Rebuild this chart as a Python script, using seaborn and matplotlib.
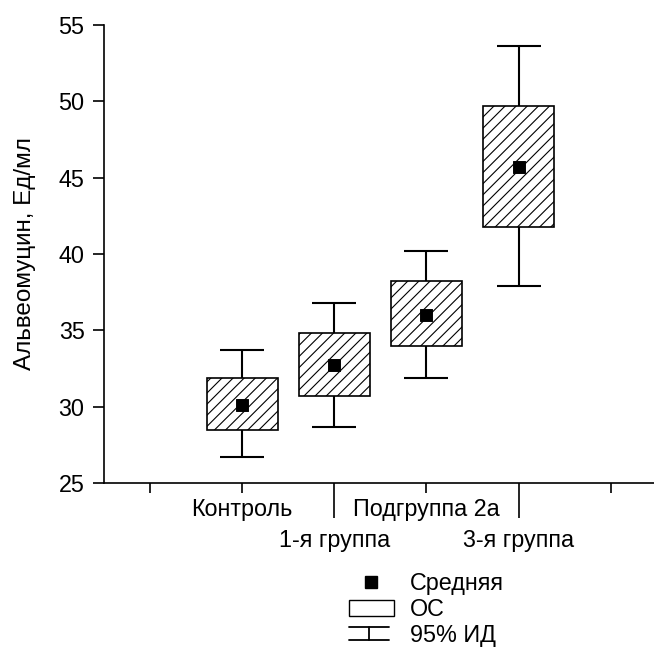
import numpy as np
import pandas as pd
import matplotlib
matplotlib.use("Agg")
import matplotlib.pyplot as plt
import seaborn as sns
from matplotlib.patches import Patch
from matplotlib.lines import Line2D
from matplotlib.legend_handler import HandlerBase
from matplotlib.container import ErrorbarContainer

# данные
groups = ["Контроль", "1-я группа", "Подгруппа 2а", "3-я группа"]
mean = [30.1, 32.7, 36.0, 45.7]
os_low = [28.5, 30.7, 34.0, 41.8]
os_high = [31.9, 34.8, 38.2, 49.7]
ci_low = [26.7, 28.7, 31.9, 37.9]
ci_high = [33.7, 36.8, 40.2, 53.6]

df = pd.DataFrame({"group": groups, "mean": mean, "os_low": os_low,
                   "os_high": os_high, "ci_low": ci_low, "ci_high": ci_high})
df["x"] = np.arange(len(groups))


# значок "95% ИД" в легенде: две горизонтальные линии и стойка между ними
class HandlerCI(HandlerBase):
    def create_artists(self, legend, orig_handle, xdescent, ydescent,
                       width, height, fontsize, trans):
        x0 = -xdescent
        x1 = x0 + width * 0.9
        xm = (x0 + x1) / 2
        yc = -ydescent + height / 2
        h = 0.28 * fontsize
        lw = 1.3
        lines = [Line2D([x0, x1], [yc + h, yc + h], color="black", lw=lw),
                 Line2D([x0, x1], [yc - h, yc - h], color="black", lw=lw),
                 Line2D([xm, xm], [yc - h, yc + h], color="black", lw=lw)]
        for l in lines:
            l.set_transform(trans)
        return lines


sns.set_style("ticks")
plt.rcParams["font.family"] = ["Liberation Sans", "DejaVu Sans"]
plt.rcParams["hatch.linewidth"] = 0.8
for k in ["text.color", "axes.labelcolor", "xtick.color", "ytick.color", "axes.edgecolor"]:
    plt.rcParams[k] = "black"
fs = 16.8

fig = plt.figure(figsize=(6.54, 6.48), dpi=100)
ax = fig.add_axes([104 / 654, 1 - 483 / 648, 1 - 104 / 654, (483 - 25) / 648])

# 95% ИД
err = ax.errorbar(df["x"], df["mean"],
                  yerr=[df["mean"] - df["ci_low"], df["ci_high"] - df["mean"]],
                  fmt="none", ecolor="black", elinewidth=1.5, capsize=15.5,
                  capthick=1.5, zorder=1)
# ОС
ax.bar(df["x"], df["os_high"] - df["os_low"], bottom=df["os_low"], width=0.77,
       color="white", edgecolor="black", linewidth=1.2, hatch="///", zorder=2)
# средняя
sns.scatterplot(data=df, x="x", y="mean", marker="s", s=70, color="black",
                edgecolor="black", zorder=3, ax=ax, legend=False)

ax.set_ylim(25, 55)
ax.set_xlim(-1.5, 4.47)
ax.set_yticks(np.arange(25, 56, 5))
ax.tick_params(axis="y", labelsize=fs, length=8, width=1.2, pad=6)

ax.set_xticks([-1, 0, 2, 4], ["", groups[0], groups[2], ""])
ax.set_xticks([1, 3], [groups[1], groups[3]], minor=True)
ax.tick_params(axis="x", which="major", labelsize=fs, length=7.5, width=1.2, pad=3)
ax.tick_params(axis="x", which="minor", labelsize=fs, length=25, width=1.2, pad=8)

ax.set_xlabel("")
ax.set_ylabel("Альвеомуцин, Ед/мл", fontsize=17.5, labelpad=16)
sns.despine(ax=ax)
for s in ["left", "bottom"]:
    ax.spines[s].set_linewidth(1.2)

handles = [Line2D([], [], marker="s", color="black", linestyle="none", markersize=8),
           Patch(facecolor="white", edgecolor="black", linewidth=1.0),
           err]
fig.legend(handles, ["Средняя", "ОС", "95% ИД"], loc="upper left",
           bbox_to_anchor=(340 / 654, 1 - 563 / 648), frameon=False,
           fontsize=fs, handlelength=1.9, labelspacing=0.12, handletextpad=0.7,
           borderaxespad=0, handler_map={ErrorbarContainer: HandlerCI()})

fig.savefig("out.png", dpi=100)
